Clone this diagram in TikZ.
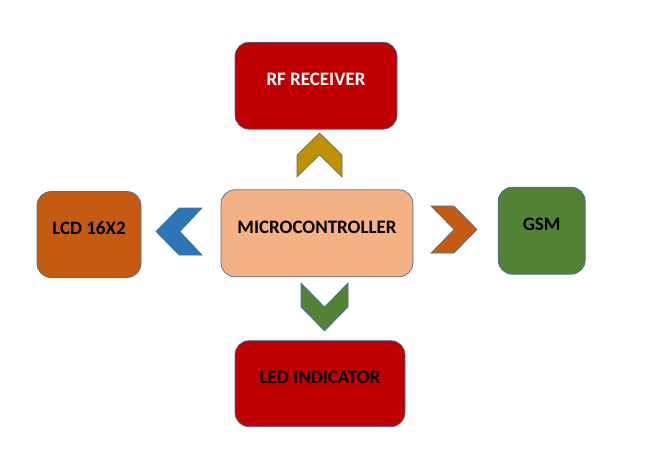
\documentclass[tikz,border=0pt]{standalone}
\usepackage{xcolor}
\usepackage{fontspec}
\setmainfont{Carlito}
\usepackage{tikz}
\usetikzlibrary{positioning}

\definecolor{boxline}{HTML}{41719C}
\definecolor{darkred}{HTML}{C00000}
\definecolor{rust}{HTML}{C55A11}
\definecolor{leaf}{HTML}{548235}
\definecolor{peach}{HTML}{F4B183}
\definecolor{steel}{HTML}{2E75B6}
\definecolor{gold}{HTML}{BF9000}

\begin{document}
\begin{tikzpicture}[x=1pt, y=-1pt,
  roundbox/.style={rectangle, rounded corners=14pt, draw=boxline, line width=0.7pt, font=\bfseries\fontsize{19}{21}\selectfont, text height=12pt, text depth=12pt},
  chevron/.style={draw=boxline, line width=0.6pt}]
\useasboundingbox (0,0) rectangle (648,461);

\node[roundbox, fill=darkred, text=white, minimum width=162pt, minimum height=87pt] (rf) at (316.0, 85.7) {RF RECEIVER};
\node[roundbox, fill=peach, minimum width=192pt, minimum height=87pt] (mcu) at (317.0, 233.3) {MICROCONTROLLER};
\node[roundbox, fill=rust, minimum width=104pt, minimum height=86pt] (lcd) at (89.0, 234.5) {LCD 16X2};
\node[roundbox, fill=leaf, minimum width=87pt, minimum height=87pt] (gsm) at (541.7, 230.7) {GSM};
\node[roundbox, fill=darkred, minimum width=170pt, minimum height=86pt] (led) at (320.0, 383.7) {LED INDICATOR};

\filldraw[chevron, fill=gold] (297,155) -- (319.5,133) -- (342,155) -- (342,177) -- (319.5,155) -- (297,177) -- cycle;
\filldraw[chevron, fill=steel] (202,208) -- (179,208) -- (156,231.5) -- (179,255) -- (202,255) -- (180,231.5) -- cycle;
\filldraw[chevron, fill=rust] (431,206) -- (454,206) -- (477,229.5) -- (454,253) -- (431,253) -- (454,229.5) -- cycle;
\filldraw[chevron, fill=leaf] (301,283) -- (324.5,307) -- (348,283) -- (348,307) -- (324.5,331) -- (301,307) -- cycle;

\end{tikzpicture}
\end{document}
